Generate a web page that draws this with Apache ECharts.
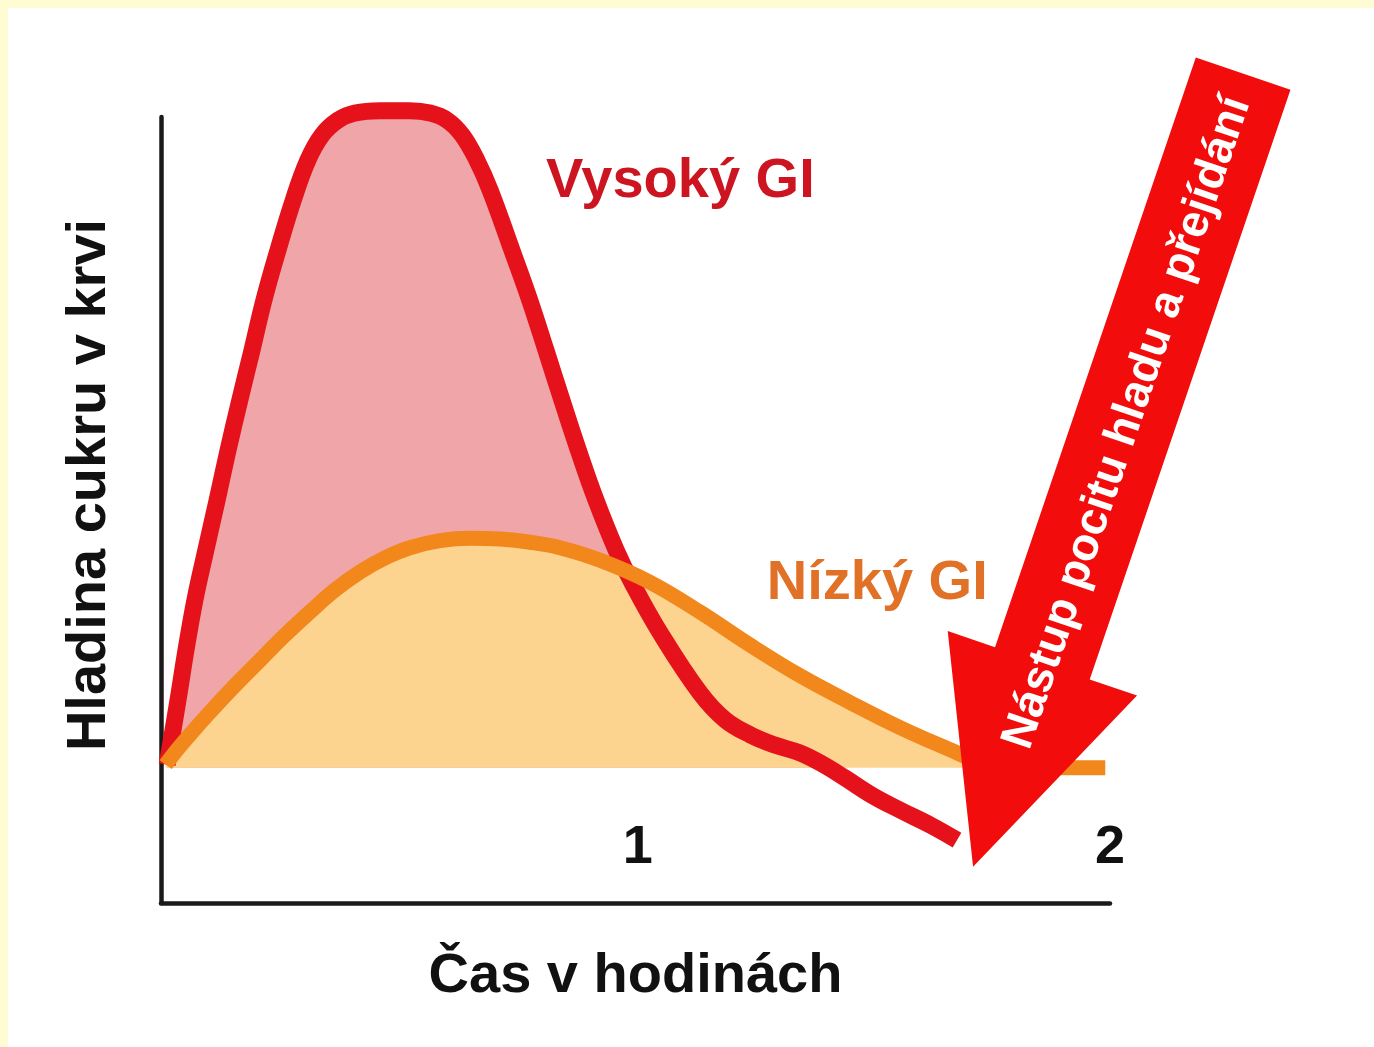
<!DOCTYPE html>
<html>
<head>
<meta charset="utf-8">
<script src="https://cdn.jsdelivr.net/npm/echarts@6/dist/echarts.min.js"></script>
<style>
html, body { margin: 0; padding: 0; background: #fffbd2; }
#frame { position: absolute; left: 8px; top: 8px; right: 0; bottom: 0; background: #ffffff; }
#chart { position: absolute; left: 0; top: 0; width: 1374px; height: 1047px; }
</style>
</head>
<body>
<div id="frame"></div>
<div id="chart"></div>
<script>
// ---- data ----
const BASELINE = 17.2; // fasting blood-sugar level (arbitrary units)

const hoursHigh = [0.003, 0.026, 0.043, 0.062, 0.085, 0.109, 0.132, 0.157, 0.183, 0.208, 0.238, 0.270, 0.301, 0.331, 0.365, 0.401, 0.454, 0.517, 0.560, 0.596, 0.628, 0.659, 0.687, 0.733, 0.771, 0.805, 0.839, 0.874, 0.911, 0.954, 0.988, 1.047, 1.132, 1.185, 1.238, 1.290, 1.343, 1.390, 1.439, 1.496, 1.556, 1.620, 1.676];
const levelHigh = [17.6, 25.8, 32.2, 38.6, 44.9, 51.3, 57.6, 64.0, 70.4, 76.7, 83.1, 89.4, 94.5, 97.7, 99.6, 100.5, 100.8, 100.8, 100.5, 99.6, 97.7, 94.5, 90.7, 83.1, 76.7, 70.4, 64.0, 57.6, 51.3, 44.9, 40.7, 34.4, 26.7, 23.3, 21.4, 20.1, 19.1, 17.7, 15.9, 13.7, 11.8, 9.9, 8.0];

const hoursLow = [0.000, 0.020, 0.051, 0.094, 0.147, 0.200, 0.253, 0.305, 0.358, 0.411, 0.464, 0.517, 0.581, 0.645, 0.708, 0.772, 0.835, 0.920, 1.026, 1.132, 1.238, 1.344, 1.450, 1.556, 1.661, 1.725, 1.778, 1.990];
const levelLow = [17.6, 19.2, 21.4, 24.3, 27.7, 30.9, 34.1, 37.0, 39.8, 42.1, 43.9, 45.2, 46.1, 46.4, 46.3, 45.9, 45.2, 43.6, 40.8, 37.0, 32.8, 28.9, 25.5, 22.3, 19.5, 17.9, 17.2, 17.2];

const tickHours = [1, 2];

const xTitle = 'Čas v hodinách';
const yTitle = 'Hladina cukru v krvi';
const highName = 'Vysoký GI';
const lowName = 'Nízký GI';
const arrowText = 'Nástup pocitu hladu a přejídání';

// annotation anchors (data coordinates)
const highNameAt = [1.09, 91.8];
const lowNameAt = [1.507, 40.6];
const arrowTipAt = [1.71, 4.6];

// ---- styles ----
const FONT = "'Liberation Sans', Arial, sans-serif";
const RED = '#e5121b';
const PINK = '#f0a6a8';
const ORANGE = '#f2871c';
const ORANGE_FILL = '#fcd38f';
const ARROW_RED = '#f20c0c';
const SMOOTH = 0.4;

const pairs = (xs, ys) => xs.map((x, i) => [x, ys[i]]);
const highPts = pairs(hoursHigh, levelHigh);
const lowPts = pairs(hoursLow, levelLow);
const highFillPts = highPts.filter(p => p[1] >= BASELINE);

const chart = echarts.init(document.getElementById('chart'), null, { renderer: 'canvas' });

const option = {
  animation: false,
  backgroundColor: 'transparent',
  grid: { left: 161, top: 117, right: 264, bottom: 144, containLabel: false, outerBoundsMode: 'none' },
  xAxis: {
    type: 'value', min: -0.01, max: 2,
    name: xTitle, nameLocation: 'middle', nameGap: 46, nameMoveOverlap: false,
    nameTextStyle: { fontSize: 56, fontWeight: 'bold', color: '#111', fontFamily: FONT },
    axisLine: { show: true, onZero: false, lineStyle: { color: '#1a1a1a', width: 4.5 } },
    axisTick: { show: false },
    splitLine: { show: false },
    axisLabel: {
      customValues: tickHours, inside: true, margin: 28,
      fontSize: 54, fontWeight: 'bold', color: '#111', fontFamily: FONT,
      formatter: v => String(v)
    }
  },
  yAxis: {
    type: 'value', min: 0, max: 100,
    name: yTitle, nameLocation: 'middle', nameGap: 43, nameMoveOverlap: false,
    nameTextStyle: { fontSize: 56, fontWeight: 'bold', color: '#111', fontFamily: FONT, padding: [0, 0, 0, 50] },
    axisLine: { show: true, onZero: false, lineStyle: { color: '#1a1a1a', width: 4.5 } },
    axisTick: { show: false },
    splitLine: { show: false },
    axisLabel: { show: false }
  },
  series: [
    {
      name: highName + ' fill', type: 'line', data: highFillPts, smooth: SMOOTH,
      symbol: 'none', clip: false, silent: true, z: 1,
      lineStyle: { width: 0, opacity: 0 },
      areaStyle: { color: PINK, opacity: 1, origin: BASELINE }
    },
    {
      name: lowName + ' fill', type: 'line', data: lowPts, smooth: SMOOTH,
      symbol: 'none', clip: false, silent: true, z: 2,
      lineStyle: { width: 0, opacity: 0 },
      areaStyle: { color: ORANGE_FILL, opacity: 1, origin: BASELINE }
    },
    {
      name: highName, type: 'line', data: highPts, smooth: SMOOTH,
      symbol: 'none', clip: false, silent: true, z: 3,
      lineStyle: { color: RED, width: 17, cap: 'butt', join: 'round' }
    },
    {
      name: lowName, type: 'line', data: lowPts, smooth: SMOOTH,
      symbol: 'none', clip: false, silent: true, z: 4,
      lineStyle: { color: ORANGE, width: 15, cap: 'butt', join: 'round' }
    }
  ]
};
chart.setOption(option);

// ---- annotations anchored in data coordinates ----
const hp = chart.convertToPixel({ gridIndex: 0 }, highNameAt);
const lp = chart.convertToPixel({ gridIndex: 0 }, lowNameAt);
const T = chart.convertToPixel({ gridIndex: 0 }, arrowTipAt);
const tilt = 18.8 * Math.PI / 180;
const u = [-Math.sin(tilt), Math.cos(tilt)]; // toward the tip
const nrm = [Math.cos(tilt), Math.sin(tilt)];
const P = (a, b) => [T[0] - a * u[0] + b * nrm[0], T[1] - a * u[1] + b * nrm[1]];
const HEAD_LEN = 215, HEAD_HALF = 100, SHAFT_HALF = 50, TOTAL = 838;
const arrowPts = [
  P(0, 0), P(HEAD_LEN, -HEAD_HALF), P(HEAD_LEN, -SHAFT_HALF), P(TOTAL, -SHAFT_HALF),
  P(TOTAL, SHAFT_HALF), P(HEAD_LEN, SHAFT_HALF), P(HEAD_LEN, HEAD_HALF)
];
const tc = P(470, 3);

chart.setOption({
  graphic: [
    {
      type: 'text', x: hp[0], y: hp[1], z: 50,
      style: { text: highName, fill: '#cc1520', font: 'bold 56px ' + FONT, align: 'center', verticalAlign: 'middle' }
    },
    {
      type: 'text', x: lp[0], y: lp[1], z: 50,
      style: { text: lowName, fill: '#e07126', font: 'bold 56px ' + FONT, align: 'center', verticalAlign: 'middle' }
    },
    {
      type: 'polygon', z: 100,
      shape: { points: arrowPts },
      style: { fill: ARROW_RED, stroke: null }
    },
    {
      type: 'text', x: tc[0], y: tc[1], z: 101, rotation: (90 - 18.8) * Math.PI / 180,
      style: { text: arrowText, fill: '#ffffff', font: 'bold 46px ' + FONT, align: 'center', verticalAlign: 'middle' }
    }
  ]
});
</script>
</body>
</html>
